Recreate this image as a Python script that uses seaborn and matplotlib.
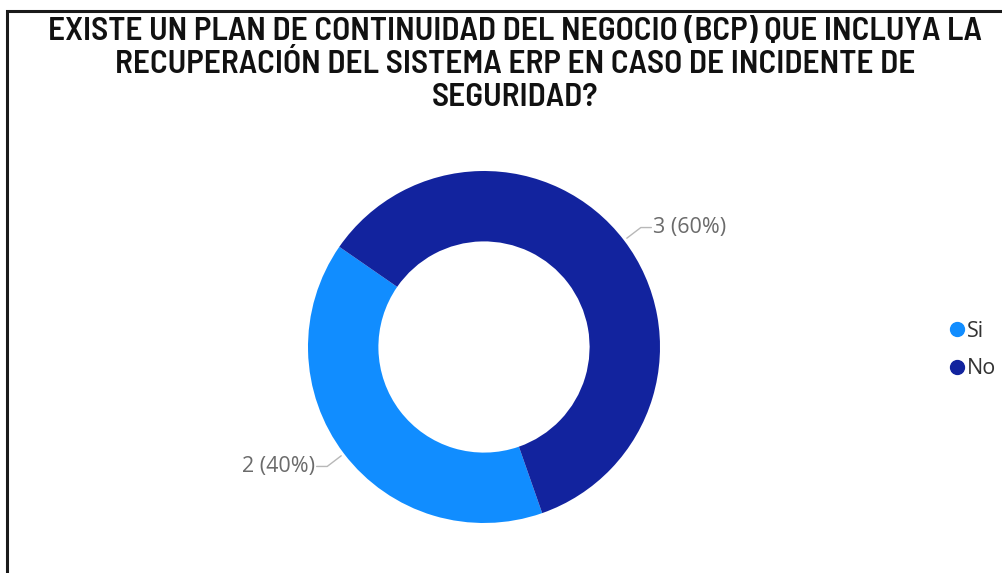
import numpy as np
import matplotlib
matplotlib.use("Agg")
import matplotlib.pyplot as plt
from matplotlib.lines import Line2D
from matplotlib.patches import Rectangle
import seaborn as sns

# Survey answers
categories = ["Si", "No"]
counts = [2, 3]
colors = ["#118DFF", "#12239E"]
title = ("EXISTE UN PLAN DE CONTINUIDAD DEL NEGOCIO (BCP) QUE INCLUYA LA\n"
         "RECUPERACIÓN DEL SISTEMA ERP EN CASO DE INCIDENTE DE\n"
         "SEGURIDAD?")

sns.set_theme(style="white")
plt.rcParams["font.family"] = ["Open Sans", "DejaVu Sans"]

W, H = 1003, 573
fig = plt.figure(figsize=(W / 100, H / 100), dpi=100)
fig.patch.set_facecolor("white")

# Frame around the visual
fig.add_artist(Rectangle((7 / W, -0.1), 1.2, (H - 11) / H + 0.1,
                         transform=fig.transFigure, fill=False,
                         edgecolor="#1a1a1a", linewidth=2.2, clip_on=False))

fig.text(515 / W, 1 - 17 / H, title, ha="center", va="top",
         fontsize=24, fontweight="semibold", color="#111111",
         family=["Barlow Semi Condensed", "DejaVu Sans"], linespacing=1.17)

# Donut
cx, cy, r = 484, 347, 176
ax = fig.add_axes([(cx - r) / W, (H - cy - r) / H, 2 * r / W, 2 * r / H])
total = sum(counts)
wedges, _ = ax.pie(counts, colors=colors, startangle=145.3, counterclock=True,
                   radius=1.0, wedgeprops=dict(width=0.4, linewidth=0))
ax.set_xlim(-1, 1)
ax.set_ylim(-1, 1)
ax.set_aspect("equal")
ax.axis("off")

# Data labels with leader lines
for w, c in zip(wedges, counts):
    mid = np.deg2rad((w.theta1 + w.theta2) / 2)
    dx, dy = np.cos(mid), np.sin(mid)
    side = 1 if dx > 0 else -1
    p0 = (1.02 * dx, 1.02 * dy)
    p1 = (1.12 * dx, 1.12 * dy)
    p2 = (p1[0] + side * 0.06, p1[1])
    ax.plot([p0[0], p1[0], p2[0]], [p0[1], p1[1], p2[1]],
            color="#b8b8b8", lw=1.0, clip_on=False)
    ax.text(p2[0] + side * 0.01, p2[1], f"{c} ({c / total:.0%})",
            ha="left" if side > 0 else "right", va="center",
            fontsize=15.5, color="#6b6b6b", clip_on=False)

# Legend
handles = [Line2D([0], [0], marker="o", linestyle="", markersize=10,
                  markerfacecolor=col, markeredgecolor=col) for col in colors]
fig.legend(handles, categories, loc="center left",
           bbox_to_anchor=(940 / W, 1 - 350 / H), frameon=False,
           fontsize=15.5, handlelength=0.6, handletextpad=0.15,
           labelspacing=0.75, borderpad=0, labelcolor="#333333")

fig.savefig("out.png", dpi=100, facecolor="white")
